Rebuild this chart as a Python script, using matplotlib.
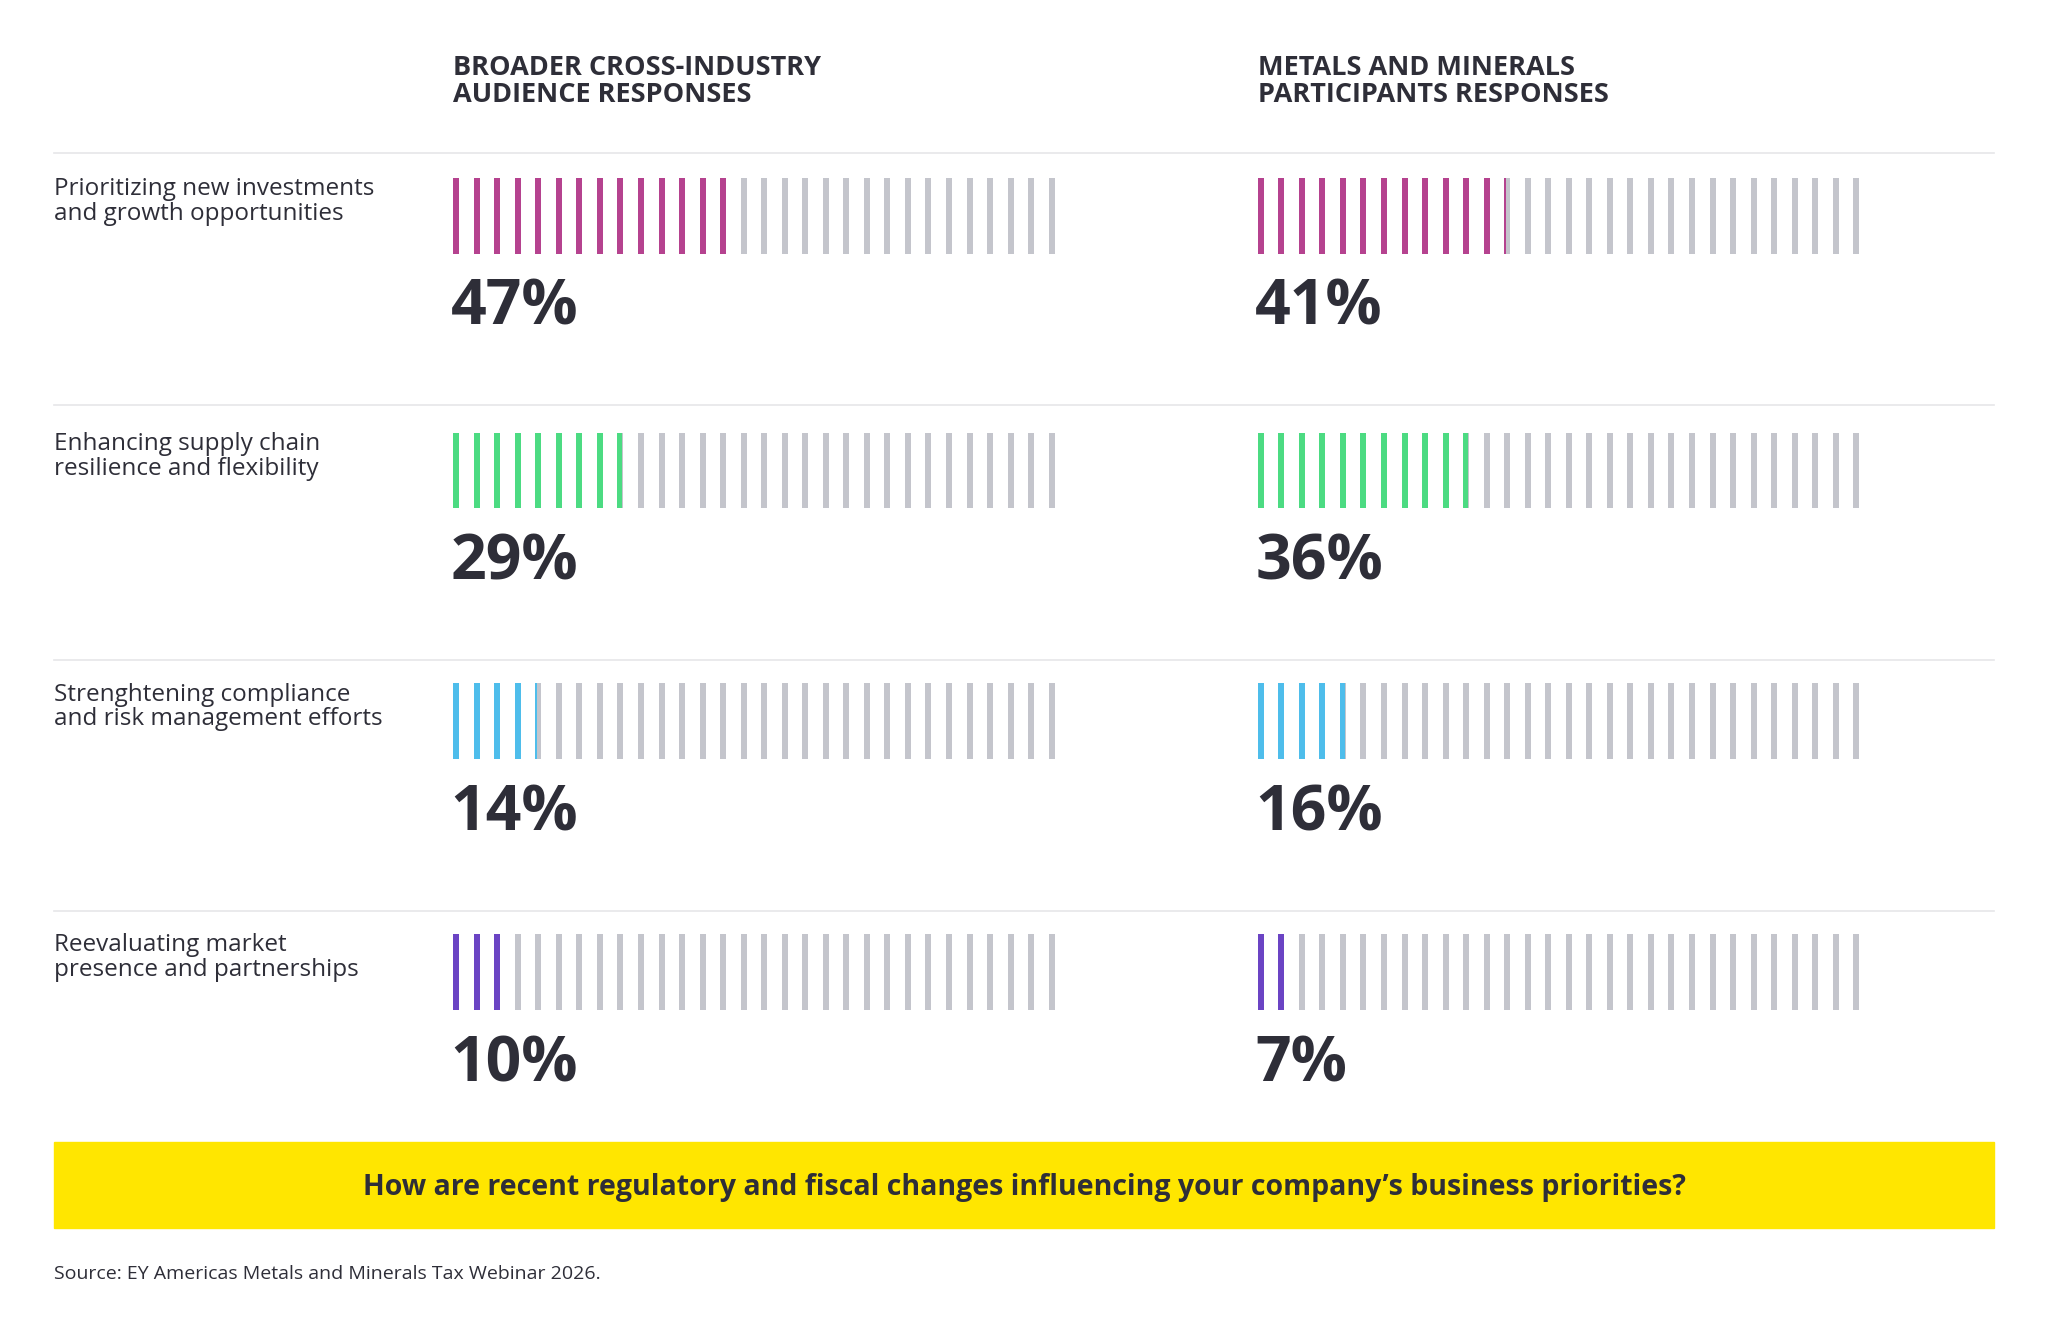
import matplotlib
matplotlib.use("Agg")
import matplotlib.pyplot as plt
import numpy as np

categories = ["Prioritizing new investments\nand growth opportunities",
              "Enhancing supply chain\nresilience and flexibility",
              "Strenghtening compliance\nand risk management efforts",
              "Reevaluating market\npresence and partnerships"]
broader = [47, 29, 14, 10]
metals = [41, 36, 16, 7]
colors = ["#B5428F", "#4CDB82", "#4EBDEB", "#6B44C4"]
headers = ["BROADER CROSS-INDUSTRY\nAUDIENCE RESPONSES", "METALS AND MINERALS\nPARTICIPANTS RESPONSES"]
question = "How are recent regulatory and fiscal changes influencing your company\u2019s business priorities?"
source = "Source: EY Americas Metals and Minerals Tax Webinar 2026."
NBARS = 30

W, H = 1568, 1020
fig = plt.figure(figsize=(20.48, 13.33), dpi=100)
ax = fig.add_axes([0, 0, 1, 1])
ax.set_xlim(0, W); ax.set_ylim(H, 0); ax.axis("off")
dark = "#2E2E38"; gray = "#C4C5CC"
plt.rcParams['font.family'] = ['Open Sans', 'DejaVu Sans']

col_x = [347, 963]
for cx, h in zip(col_x, headers):
    ax.text(cx, 62, h, fontsize=19.5, fontweight="bold", color=dark, va="center", linespacing=1.05)

row_top = [136, 331, 523, 715]
sep_y = [117, 310, 505, 697]
for y in sep_y:
    ax.plot([41, 1527], [y, y], color="#E6E6E9", lw=1.2)

spacing = 15.72; bw = 4.6; bh = 58
for r, (cat, col) in enumerate(zip(categories, colors)):
    top = row_top[r]
    ax.text(41, top + 18, cat, fontsize=17.5, color=dark, va="center", linespacing=1.05)
    for cx, val in zip(col_x, [broader[r], metals[r]]):
        xs = cx + np.arange(NBARS) * spacing
        ax.bar(xs, bh, width=bw, bottom=top, color=gray, align="edge")
        filled = val * NBARS / 100.0
        frac = np.clip(filled - np.arange(NBARS), 0, 1)
        ax.bar(xs, bh, width=bw * frac, bottom=top, color=col, align="edge")
        ax.text(cx - 2, top + 100, f"{val}%", fontsize=45, fontweight="bold", color=dark, va="center")

ax.add_patch(plt.Rectangle((41, 874), 1486, 66, color="#FFE600", zorder=0))
ax.text(784, 909, question, fontsize=20.5, fontweight="bold", color=dark, ha="center", va="center")
ax.text(41, 975, source, fontsize=14, color=dark, va="center")

fig.savefig("out.png", dpi=100, facecolor="white")
